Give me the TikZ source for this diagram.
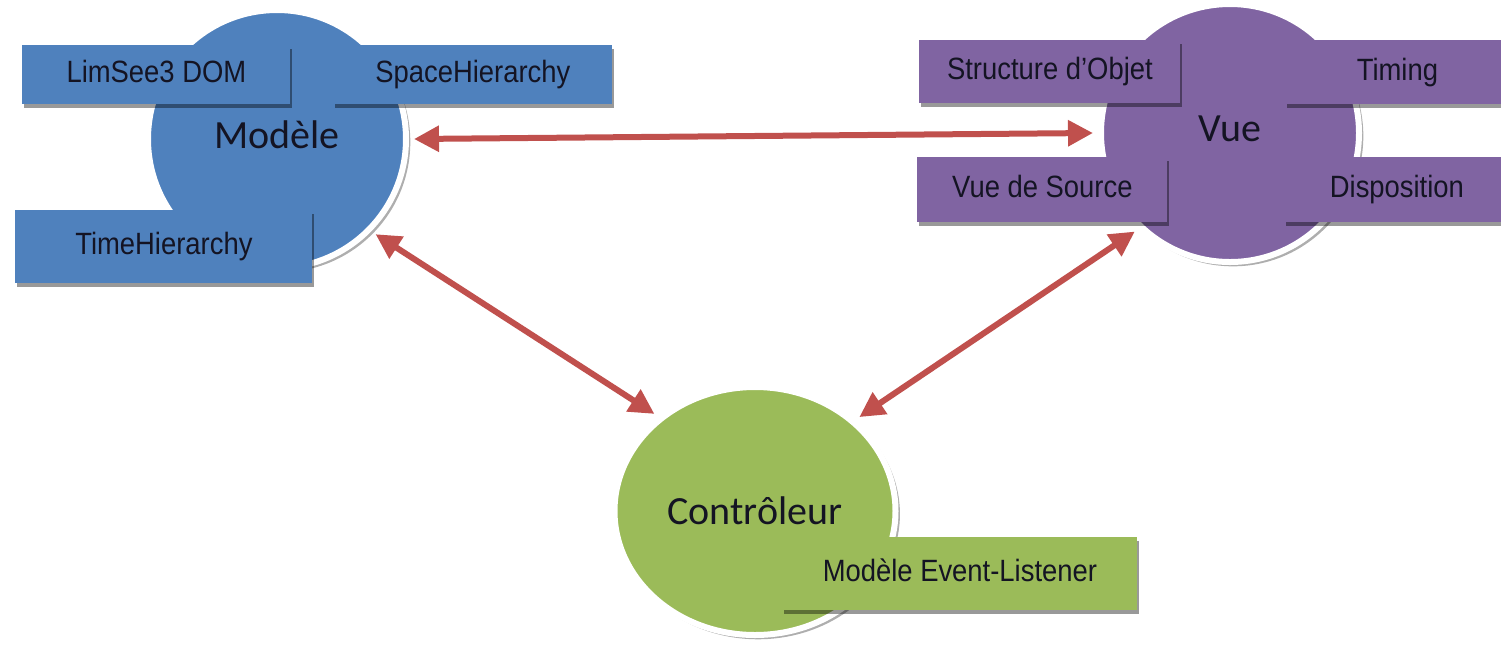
\documentclass[tikz,border=0pt]{standalone}
\usepackage{fontspec}
\usetikzlibrary{shapes.geometric,shadows,arrows.meta}

\newfontfamily\titlefont{Carlito}
\newfontfamily\tagfont[FakeStretch=0.89]{Liberation Sans}

\definecolor{mvcblue}{RGB}{79,129,189}
\definecolor{mvcpurple}{RGB}{128,100,162}
\definecolor{mvcgreen}{RGB}{155,187,89}
\definecolor{mvcred}{RGB}{192,80,77}
\definecolor{mvctext}{RGB}{20,20,35}

\tikzset{
  hubshadow/.style={drop shadow={shadow xshift=1.5pt, shadow yshift=-1.5pt,
      shadow scale=1.01, fill=black!45, opacity=.7}},
  hub/.style={circle, inner sep=0pt, minimum size=129pt, draw=white,
      line width=3pt, outer sep=4pt, text=mvctext, text depth=4pt,
      font=\titlefont\fontsize{20}{24}\selectfont, hubshadow},
  hubwide/.style={ellipse, inner sep=0pt, minimum width=140.5pt,
      minimum height=124pt, draw=white, line width=3pt, outer sep=4pt,
      text=mvctext, font=\titlefont\fontsize{20}{24}\selectfont, hubshadow},
  tag/.style={rectangle, inner sep=0pt, anchor=north west, text=mvctext,
      text height=11pt, text depth=3pt,
      font=\tagfont\fontsize{15.4}{18}\selectfont,
      drop shadow={shadow xshift=1pt, shadow yshift=-2pt, fill=black, opacity=.4}},
  link/.style={draw=mvcred, line width=3pt,
      {Triangle[length=12.5pt,width=12.5pt]}-{Triangle[length=12.5pt,width=12.5pt]}}
}

\begin{document}
\begin{tikzpicture}[x=0.5pt,y=-0.5pt]
  \useasboundingbox (0,0) rectangle (1501,650);
  \clip (0,0) rectangle (1501,650);

  % the three parts of the pattern
  \node[hub, fill=mvcblue] (mod) at (277,139) {Modèle};
  \node[hub, fill=mvcpurple] (vue) at (1230,133) {Vue};
  \node[hubwide, fill=mvcgreen] (ctl) at (755,511) {Contrôleur};

  % model components
  \node[tag, fill=mvcblue, minimum width=134pt, minimum height=29.5pt]
    (dom) at (22,45) {LimSee3 DOM};
  \node[tag, fill=mvcblue, minimum width=139.5pt, minimum height=29.5pt]
    (space) at (333,45) {SpaceHierarchy};
  \node[tag, fill=mvcblue, minimum width=148.5pt, minimum height=36.5pt]
    (time) at (15,210) {TimeHierarchy};

  % view components
  \node[tag, fill=mvcpurple, minimum width=130.5pt, minimum height=31.5pt]
    (struct) at (919,40) {Structure d’Objet};
  \node[tag, fill=mvcpurple, minimum width=112pt, minimum height=32pt]
    (timing) at (1285,40) {Timing};
  \node[tag, fill=mvcpurple, minimum width=125pt, minimum height=32.5pt]
    (source) at (917,157) {Vue de Source};
  \node[tag, fill=mvcpurple, minimum width=112.5pt, minimum height=32.5pt]
    (layout) at (1284,157) {Disposition};

  % controller component
  \node[tag, fill=mvcgreen, minimum width=177.5pt, minimum height=36.5pt]
    (events) at (782,537) {Modèle Event-Listener};

  % interactions
  \draw[link] (mod.0) -- (vue.180);
  \draw[link] (mod.-44) -- (ctl.136);
  \draw[link] (vue.226) -- (ctl.42);
\end{tikzpicture}
\end{document}
